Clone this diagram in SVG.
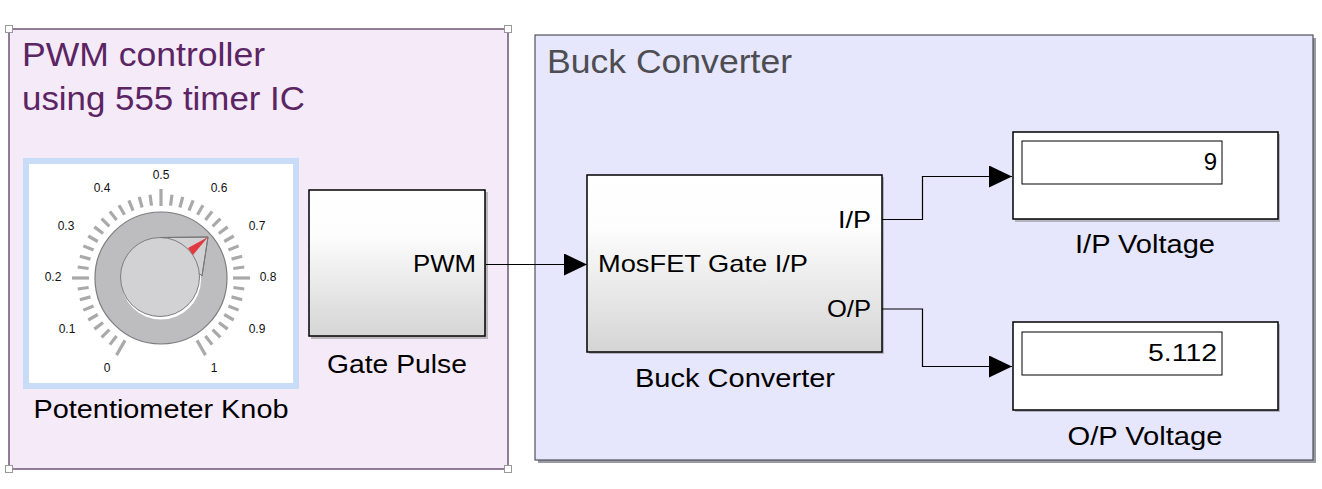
<svg xmlns="http://www.w3.org/2000/svg" xmlns:xlink="http://www.w3.org/1999/xlink" width="1322" height="489" viewBox="0 0 1322 489">
<style>
text{font-family:"Liberation Sans",Arial,sans-serif;fill:#000}
.title{font-size:34px}
.lbl{font-size:26px}
.port{font-size:24px}
.tick{font-size:12px;fill:#111;text-anchor:middle}
.blk{stroke:#000;stroke-width:1.5}
.shadow{fill:#777;opacity:.45}
.wire{fill:none;stroke:#000;stroke-width:1.2;marker-end:url(#arr)}
.handle{fill:#fff;stroke:#999;stroke-width:1}
</style>
<defs>
<linearGradient id="bgrad" x1="0" y1="0" x2="0" y2="1">
<stop offset="0" stop-color="#ffffff"/>
<stop offset="0.3" stop-color="#fdfdfd"/>
<stop offset="1" stop-color="#d5d5d5"/>
</linearGradient>
<marker id="arr" markerUnits="userSpaceOnUse" markerWidth="24" markerHeight="23" refX="23" refY="11" orient="auto">
<path d="M0,0 L23,11 L0,22 Z" fill="#000"/>
</marker>
<line id="tk" x1="161" y1="205" x2="161" y2="194" stroke="#a9a9a9" stroke-width="3.2"/>
<line id="tkL" x1="161" y1="206" x2="161" y2="189" stroke="#a9a9a9" stroke-width="3.2"/>
</defs>

<g id="pwm-panel">
<rect x="9" y="29" width="499" height="440" fill="#f5eaf8" stroke="#6e5475" stroke-width="1.5"/>
<rect class="handle" x="5.5" y="25.5" width="7" height="7"/>
<rect class="handle" x="504.5" y="25.5" width="7" height="7"/>
<rect class="handle" x="5.5" y="465.5" width="7" height="7"/>
<rect class="handle" x="504.5" y="465.5" width="7" height="7"/>
<text class="title" x="22" y="66" style="fill:#5b2463" textLength="243" lengthAdjust="spacingAndGlyphs">PWM controller</text>
<text class="title" x="22" y="110" style="fill:#5b2463" textLength="283" lengthAdjust="spacingAndGlyphs">using 555 timer IC</text>
</g>

<g id="buck-panel">
<rect x="538" y="38" width="778" height="425" fill="#9a9aa6"/>
<rect x="535" y="35" width="778" height="425" fill="#e6e6fc" stroke="#505058" stroke-width="1.2"/>
<text class="title" x="547" y="73" style="fill:#4d4d52" textLength="245" lengthAdjust="spacingAndGlyphs">Buck Converter</text>
</g>

<g id="knob">
<rect x="26" y="161" width="270" height="225" fill="#fff" stroke="#c8dcf8" stroke-width="6"/>
<g>
<use xlink:href="#tkL" transform="rotate(-150 161 278)"/>
<use xlink:href="#tk" transform="rotate(-142.5 161 278)"/>
<use xlink:href="#tk" transform="rotate(-135 161 278)"/>
<use xlink:href="#tk" transform="rotate(-127.5 161 278)"/>
<use xlink:href="#tk" transform="rotate(-120 161 278)"/>
<use xlink:href="#tk" transform="rotate(-112.5 161 278)"/>
<use xlink:href="#tk" transform="rotate(-105 161 278)"/>
<use xlink:href="#tk" transform="rotate(-97.5 161 278)"/>
<use xlink:href="#tkL" transform="rotate(-90 161 278)"/>
<use xlink:href="#tk" transform="rotate(-82.5 161 278)"/>
<use xlink:href="#tk" transform="rotate(-75 161 278)"/>
<use xlink:href="#tk" transform="rotate(-67.5 161 278)"/>
<use xlink:href="#tk" transform="rotate(-60 161 278)"/>
<use xlink:href="#tk" transform="rotate(-52.5 161 278)"/>
<use xlink:href="#tk" transform="rotate(-45 161 278)"/>
<use xlink:href="#tk" transform="rotate(-37.5 161 278)"/>
<use xlink:href="#tk" transform="rotate(-30 161 278)"/>
<use xlink:href="#tk" transform="rotate(-22.5 161 278)"/>
<use xlink:href="#tk" transform="rotate(-15 161 278)"/>
<use xlink:href="#tk" transform="rotate(-7.5 161 278)"/>
<use xlink:href="#tkL"/>
<use xlink:href="#tk" transform="rotate(7.5 161 278)"/>
<use xlink:href="#tk" transform="rotate(15 161 278)"/>
<use xlink:href="#tk" transform="rotate(22.5 161 278)"/>
<use xlink:href="#tk" transform="rotate(30 161 278)"/>
<use xlink:href="#tk" transform="rotate(37.5 161 278)"/>
<use xlink:href="#tk" transform="rotate(45 161 278)"/>
<use xlink:href="#tk" transform="rotate(52.5 161 278)"/>
<use xlink:href="#tk" transform="rotate(60 161 278)"/>
<use xlink:href="#tk" transform="rotate(67.5 161 278)"/>
<use xlink:href="#tk" transform="rotate(75 161 278)"/>
<use xlink:href="#tk" transform="rotate(82.5 161 278)"/>
<use xlink:href="#tkL" transform="rotate(90 161 278)"/>
<use xlink:href="#tk" transform="rotate(97.5 161 278)"/>
<use xlink:href="#tk" transform="rotate(105 161 278)"/>
<use xlink:href="#tk" transform="rotate(112.5 161 278)"/>
<use xlink:href="#tk" transform="rotate(120 161 278)"/>
<use xlink:href="#tk" transform="rotate(127.5 161 278)"/>
<use xlink:href="#tk" transform="rotate(135 161 278)"/>
<use xlink:href="#tk" transform="rotate(142.5 161 278)"/>
<use xlink:href="#tkL" transform="rotate(150 161 278)"/>
</g>
<text class="tick" x="107" y="372">0</text>
<text class="tick" x="67" y="333">0.1</text>
<text class="tick" x="53" y="281">0.2</text>
<text class="tick" x="66" y="230">0.3</text>
<text class="tick" x="102" y="192">0.4</text>
<text class="tick" x="161" y="179">0.5</text>
<text class="tick" x="219" y="192">0.6</text>
<text class="tick" x="257" y="230">0.7</text>
<text class="tick" x="268" y="281">0.8</text>
<text class="tick" x="257" y="333">0.9</text>
<text class="tick" x="214" y="372">1</text>
<circle cx="161" cy="278" r="66" fill="#bdbdbf" stroke="#7d7d7d" stroke-width="1.2"/>
<circle cx="161" cy="279.5" r="40" fill="#ffffff"/>
<path d="M208,237 L160.5,237.5 L202,276 Z" fill="#d2d2d4" stroke="#777" stroke-width="1"/>
<circle cx="160" cy="277" r="39.5" fill="#d2d2d4" stroke="#7d7d7d" stroke-width="1"/>
<path d="M208,237 L160.5,237.5 M208,237 L202,276" stroke="#777" stroke-width="1" fill="none"/>
<path d="M208,237 L188,248 L193,255 Z" fill="#e0393e"/>
<text class="lbl" x="161" y="418" text-anchor="middle" textLength="255" lengthAdjust="spacingAndGlyphs">Potentiometer Knob</text>
</g>

<g id="gate-pulse">
<rect class="shadow" x="311" y="192" width="177" height="147"/>
<rect class="blk" x="309" y="190" width="176" height="146" fill="url(#bgrad)"/>
<text class="port" x="476" y="272" text-anchor="end" textLength="63" lengthAdjust="spacingAndGlyphs">PWM</text>
<text class="lbl" x="397" y="373" text-anchor="middle" textLength="140" lengthAdjust="spacingAndGlyphs">Gate Pulse</text>
</g>

<g id="buck-converter">
<rect class="shadow" x="589" y="177" width="295" height="177"/>
<rect class="blk" x="587" y="175" width="295" height="177" fill="url(#bgrad)"/>
<text class="port" x="871" y="228" text-anchor="end" textLength="33" lengthAdjust="spacingAndGlyphs">I/P</text>
<text class="port" x="598" y="272" textLength="210" lengthAdjust="spacingAndGlyphs">MosFET Gate I/P</text>
<text class="port" x="871" y="317" text-anchor="end" textLength="44" lengthAdjust="spacingAndGlyphs">O/P</text>
<text class="lbl" x="735" y="387" text-anchor="middle" textLength="200" lengthAdjust="spacingAndGlyphs">Buck Converter</text>
</g>

<g id="ip-voltage">
<rect class="shadow" x="1015" y="134" width="265" height="88"/>
<rect class="blk" x="1013" y="132" width="265" height="87" fill="#fff"/>
<rect x="1022" y="141" width="200" height="43" fill="#fff" stroke="#000" stroke-width="1"/>
<text class="port" x="1217" y="170" text-anchor="end">9</text>
<text class="lbl" x="1145" y="253" text-anchor="middle" textLength="140" lengthAdjust="spacingAndGlyphs">I/P Voltage</text>
</g>

<g id="op-voltage">
<rect class="shadow" x="1015" y="324" width="265" height="88"/>
<rect class="blk" x="1013" y="322" width="265" height="88" fill="#fff"/>
<rect x="1022" y="332" width="200" height="43" fill="#fff" stroke="#000" stroke-width="1"/>
<text class="port" x="1217" y="361" text-anchor="end" textLength="69" lengthAdjust="spacingAndGlyphs">5.112</text>
<text class="lbl" x="1145" y="445" text-anchor="middle" textLength="155" lengthAdjust="spacingAndGlyphs">O/P Voltage</text>
</g>

<g id="connectors">
<path class="wire" d="M486,264.5 H587"/>
<path class="wire" d="M882,219.5 H922.5 V176.5 H1012"/>
<path class="wire" d="M882,309 H922.5 V366.5 H1012"/>
</g>
</svg>
